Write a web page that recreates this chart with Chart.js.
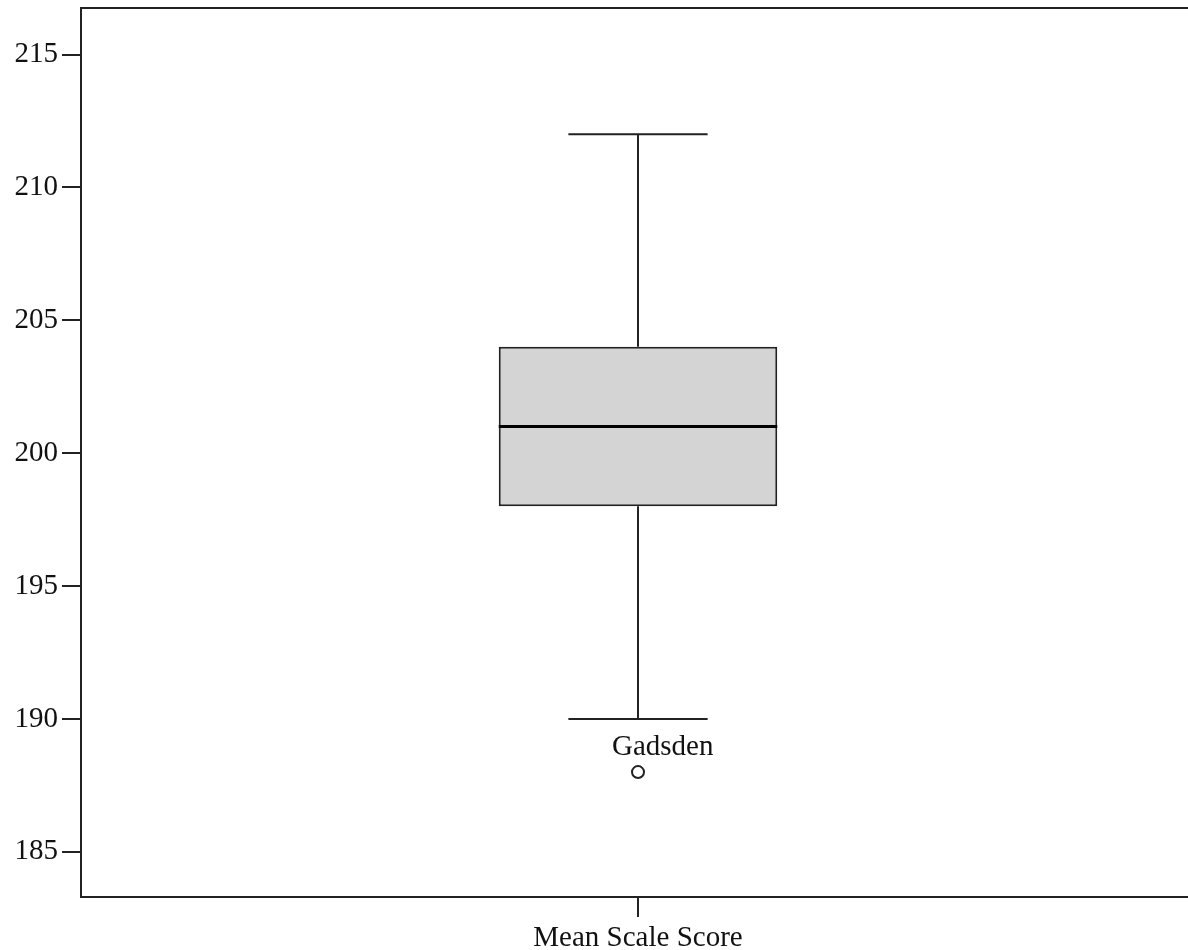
<!DOCTYPE html>
<html>
<head>
<meta charset="utf-8">
<script src="https://cdn.jsdelivr.net/npm/chart.js@4/dist/chart.umd.min.js"></script>
<style>
    html, body { margin: 0; padding: 0; background: #fff; overflow: hidden; }
    #clip { width: 1188px; height: 950px; overflow: hidden; }
    #wrap { width: 1203px; height: 950px; }
</style>
</head>
<body>
<div id="clip"><div id="wrap"><canvas id="boxChart"></canvas></div></div>
<script>
var categories = ['Mean Scale Score'];
var whiskerLow = [190];
var quartile1 = [198];
var medians = [201];
var quartile3 = [204];
var whiskerHigh = [212];
var outliers = [188];
var outlierLabels = ['Gadsden'];
var yTicks = [185, 190, 195, 200, 205, 210, 215];

var FONT = "'Liberation Serif', 'Times New Roman', serif";
var INK = '#222';

// whiskers, caps, median and the top frame line, drawn through the chart scales
var boxParts = {
    id: 'boxParts',
    beforeDatasetsDraw: function (chart) {
        var ctx = chart.ctx;
        var x = chart.scales.x;
        var y = chart.scales.y;
        var bar = chart.getDatasetMeta(0).data;
        ctx.save();
        ctx.strokeStyle = INK;
        ctx.lineWidth = 2;
        categories.forEach(function (c, i) {
            var cx = x.getPixelForValue(i);
            var half = bar[i].width / 4;
            ctx.beginPath();
            ctx.moveTo(cx, y.getPixelForValue(whiskerHigh[i]));
            ctx.lineTo(cx, y.getPixelForValue(quartile3[i]));
            ctx.moveTo(cx, y.getPixelForValue(quartile1[i]));
            ctx.lineTo(cx, y.getPixelForValue(whiskerLow[i]));
            ctx.moveTo(cx - half, y.getPixelForValue(whiskerHigh[i]));
            ctx.lineTo(cx + half, y.getPixelForValue(whiskerHigh[i]));
            ctx.moveTo(cx - half, y.getPixelForValue(whiskerLow[i]));
            ctx.lineTo(cx + half, y.getPixelForValue(whiskerLow[i]));
            ctx.stroke();
        });
        ctx.beginPath();
        ctx.moveTo(chart.chartArea.left, chart.chartArea.top);
        ctx.lineTo(chart.chartArea.right, chart.chartArea.top);
        ctx.stroke();
        ctx.restore();
    },
    afterDatasetsDraw: function (chart) {
        var ctx = chart.ctx;
        var x = chart.scales.x;
        var y = chart.scales.y;
        var bar = chart.getDatasetMeta(0).data;
        ctx.save();
        ctx.strokeStyle = '#000';
        ctx.lineWidth = 3;
        categories.forEach(function (c, i) {
            var cx = x.getPixelForValue(i);
            var half = bar[i].width / 2;
            var my = y.getPixelForValue(medians[i]);
            ctx.beginPath();
            ctx.moveTo(cx - half, my);
            ctx.lineTo(cx + half, my);
            ctx.stroke();
        });
        ctx.fillStyle = '#111';
        ctx.font = '29px ' + FONT;
        ctx.textAlign = 'left';
        ctx.textBaseline = 'alphabetic';
        outliers.forEach(function (v, i) {
            var px = x.getPixelForValue(i);
            var py = y.getPixelForValue(v);
            ctx.fillText(outlierLabels[i], px - 26, py - 17);
        });
        ctx.restore();
    }
};

new Chart(document.getElementById('boxChart'), {
    type: 'bar',
    data: {
        labels: categories,
        datasets: [{
            label: 'box',
            data: quartile1.map(function (q, i) { return [q, quartile3[i]]; }),
            backgroundColor: '#d4d4d4',
            borderColor: INK,
            borderWidth: 2,
            borderSkipped: false,
            barPercentage: 0.25,
            categoryPercentage: 1
        }, {
            type: 'line',
            label: 'outliers',
            data: outliers,
            showLine: false,
            pointStyle: 'circle',
            pointRadius: 6,
            pointBackgroundColor: '#fff',
            pointBorderColor: INK,
            pointBorderWidth: 2
        }]
    },
    options: {
        responsive: true,
        maintainAspectRatio: false,
        animation: false,
        layout: { padding: { top: 8, right: 0, left: 0, bottom: 0 } },
        plugins: {
            legend: { display: false },
            tooltip: { enabled: false }
        },
        scales: {
            x: {
                offset: true,
                grid: { display: true, offset: false, drawOnChartArea: false, tickLength: 20, color: INK, lineWidth: 2 },
                border: { color: INK, width: 2 },
                ticks: { color: '#111', padding: 4, font: { family: FONT, size: 29 } },
                afterFit: function (s) {
                    s.height = 53;
                    s.paddingLeft = 0;
                    s.paddingRight = 0;
                }
            },
            y: {
                min: 183.3,
                max: 216.75,
                grid: { display: true, drawOnChartArea: false, tickLength: 19, color: INK, lineWidth: 2 },
                border: { color: INK, width: 2 },
                ticks: { color: '#111', padding: 4, font: { family: FONT, size: 29 } },
                afterBuildTicks: function (s) {
                    s.ticks = yTicks.map(function (v) { return { value: v }; });
                },
                afterFit: function (s) {
                    s.width = 81;
                    s.paddingTop = 0;
                    s.paddingBottom = 0;
                }
            }
        }
    },
    plugins: [boxParts]
});
</script>
</body>
</html>
